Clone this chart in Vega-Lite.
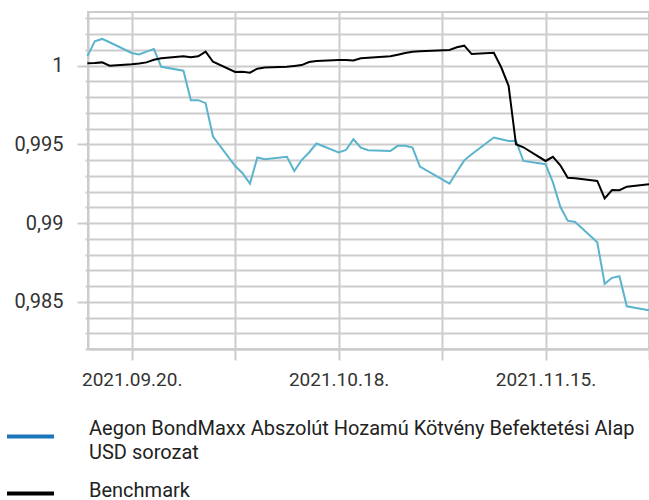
{
  "$schema": "https://vega.github.io/schema/vega-lite/v6.json",
  "width": 561,
  "height": 337,
  "autosize": "none",
  "padding": {"left": 88, "top": 12, "right": 0, "bottom": 151},
  "background": "white",
  "config": {
    "font": "Roboto",
    "view": {"stroke": "#cccccc", "strokeWidth": 2}
  },
  "data": {
    "values": [
      {"date": "2021-09-14T00:00", "series": "Aegon BondMaxx Abszolút Hozamú Kötvény Befektetési Alap USD sorozat", "value": 1.00060},
      {"date": "2021-09-15T00:00", "series": "Aegon BondMaxx Abszolút Hozamú Kötvény Befektetési Alap USD sorozat", "value": 1.00154},
      {"date": "2021-09-16T00:00", "series": "Aegon BondMaxx Abszolút Hozamú Kötvény Befektetési Alap USD sorozat", "value": 1.00169},
      {"date": "2021-09-17T00:00", "series": "Aegon BondMaxx Abszolút Hozamú Kötvény Befektetési Alap USD sorozat", "value": 1.00148},
      {"date": "2021-09-20T00:00", "series": "Aegon BondMaxx Abszolút Hozamú Kötvény Befektetési Alap USD sorozat", "value": 1.00080},
      {"date": "2021-09-21T00:00", "series": "Aegon BondMaxx Abszolút Hozamú Kötvény Befektetési Alap USD sorozat", "value": 1.00071},
      {"date": "2021-09-22T00:00", "series": "Aegon BondMaxx Abszolút Hozamú Kötvény Befektetési Alap USD sorozat", "value": 1.00088},
      {"date": "2021-09-23T00:00", "series": "Aegon BondMaxx Abszolút Hozamú Kötvény Befektetési Alap USD sorozat", "value": 1.00105},
      {"date": "2021-09-24T00:00", "series": "Aegon BondMaxx Abszolút Hozamú Kötvény Befektetési Alap USD sorozat", "value": 0.99992},
      {"date": "2021-09-27T00:00", "series": "Aegon BondMaxx Abszolút Hozamú Kötvény Befektetési Alap USD sorozat", "value": 0.99967},
      {"date": "2021-09-28T00:00", "series": "Aegon BondMaxx Abszolút Hozamú Kötvény Befektetési Alap USD sorozat", "value": 0.99780},
      {"date": "2021-09-29T00:00", "series": "Aegon BondMaxx Abszolút Hozamú Kötvény Befektetési Alap USD sorozat", "value": 0.99780},
      {"date": "2021-09-30T00:00", "series": "Aegon BondMaxx Abszolút Hozamú Kötvény Befektetési Alap USD sorozat", "value": 0.99761},
      {"date": "2021-10-01T00:00", "series": "Aegon BondMaxx Abszolút Hozamú Kötvény Befektetési Alap USD sorozat", "value": 0.99549},
      {"date": "2021-10-04T00:00", "series": "Aegon BondMaxx Abszolút Hozamú Kötvény Befektetési Alap USD sorozat", "value": 0.99362},
      {"date": "2021-10-05T00:00", "series": "Aegon BondMaxx Abszolút Hozamú Kötvény Befektetési Alap USD sorozat", "value": 0.99316},
      {"date": "2021-10-06T00:00", "series": "Aegon BondMaxx Abszolút Hozamú Kötvény Befektetési Alap USD sorozat", "value": 0.99250},
      {"date": "2021-10-07T00:00", "series": "Aegon BondMaxx Abszolút Hozamú Kötvény Befektetési Alap USD sorozat", "value": 0.99416},
      {"date": "2021-10-08T00:00", "series": "Aegon BondMaxx Abszolút Hozamú Kötvény Befektetési Alap USD sorozat", "value": 0.99405},
      {"date": "2021-10-11T00:00", "series": "Aegon BondMaxx Abszolút Hozamú Kötvény Befektetési Alap USD sorozat", "value": 0.99420},
      {"date": "2021-10-12T00:00", "series": "Aegon BondMaxx Abszolút Hozamú Kötvény Befektetési Alap USD sorozat", "value": 0.99330},
      {"date": "2021-10-13T00:00", "series": "Aegon BondMaxx Abszolút Hozamú Kötvény Befektetési Alap USD sorozat", "value": 0.99400},
      {"date": "2021-10-14T00:00", "series": "Aegon BondMaxx Abszolút Hozamú Kötvény Befektetési Alap USD sorozat", "value": 0.99448},
      {"date": "2021-10-15T00:00", "series": "Aegon BondMaxx Abszolút Hozamú Kötvény Befektetési Alap USD sorozat", "value": 0.99505},
      {"date": "2021-10-18T00:00", "series": "Aegon BondMaxx Abszolút Hozamú Kötvény Befektetési Alap USD sorozat", "value": 0.99448},
      {"date": "2021-10-19T00:00", "series": "Aegon BondMaxx Abszolút Hozamú Kötvény Befektetési Alap USD sorozat", "value": 0.99464},
      {"date": "2021-10-20T00:00", "series": "Aegon BondMaxx Abszolút Hozamú Kötvény Befektetési Alap USD sorozat", "value": 0.99532},
      {"date": "2021-10-21T00:00", "series": "Aegon BondMaxx Abszolút Hozamú Kötvény Befektetési Alap USD sorozat", "value": 0.99479},
      {"date": "2021-10-22T00:00", "series": "Aegon BondMaxx Abszolút Hozamú Kötvény Befektetési Alap USD sorozat", "value": 0.99462},
      {"date": "2021-10-25T00:00", "series": "Aegon BondMaxx Abszolút Hozamú Kötvény Befektetési Alap USD sorozat", "value": 0.99458},
      {"date": "2021-10-26T00:00", "series": "Aegon BondMaxx Abszolút Hozamú Kötvény Befektetési Alap USD sorozat", "value": 0.99490},
      {"date": "2021-10-27T00:00", "series": "Aegon BondMaxx Abszolút Hozamú Kötvény Befektetési Alap USD sorozat", "value": 0.99490},
      {"date": "2021-10-28T00:00", "series": "Aegon BondMaxx Abszolút Hozamú Kötvény Befektetési Alap USD sorozat", "value": 0.99479},
      {"date": "2021-10-29T00:00", "series": "Aegon BondMaxx Abszolút Hozamú Kötvény Befektetési Alap USD sorozat", "value": 0.99358},
      {"date": "2021-11-02T00:00", "series": "Aegon BondMaxx Abszolút Hozamú Kötvény Befektetési Alap USD sorozat", "value": 0.99250},
      {"date": "2021-11-03T00:00", "series": "Aegon BondMaxx Abszolút Hozamú Kötvény Befektetési Alap USD sorozat", "value": 0.99325},
      {"date": "2021-11-04T00:00", "series": "Aegon BondMaxx Abszolút Hozamú Kötvény Befektetési Alap USD sorozat", "value": 0.99398},
      {"date": "2021-11-05T00:00", "series": "Aegon BondMaxx Abszolút Hozamú Kötvény Befektetési Alap USD sorozat", "value": 0.99437},
      {"date": "2021-11-08T00:00", "series": "Aegon BondMaxx Abszolút Hozamú Kötvény Befektetési Alap USD sorozat", "value": 0.99543},
      {"date": "2021-11-09T00:00", "series": "Aegon BondMaxx Abszolút Hozamú Kötvény Befektetési Alap USD sorozat", "value": 0.99532},
      {"date": "2021-11-10T00:00", "series": "Aegon BondMaxx Abszolút Hozamú Kötvény Befektetési Alap USD sorozat", "value": 0.99521},
      {"date": "2021-11-11T00:00", "series": "Aegon BondMaxx Abszolút Hozamú Kötvény Befektetési Alap USD sorozat", "value": 0.99523},
      {"date": "2021-11-12T00:00", "series": "Aegon BondMaxx Abszolút Hozamú Kötvény Befektetési Alap USD sorozat", "value": 0.99394},
      {"date": "2021-11-15T00:00", "series": "Aegon BondMaxx Abszolút Hozamú Kötvény Befektetési Alap USD sorozat", "value": 0.99373},
      {"date": "2021-11-16T00:00", "series": "Aegon BondMaxx Abszolút Hozamú Kötvény Befektetési Alap USD sorozat", "value": 0.99258},
      {"date": "2021-11-17T00:00", "series": "Aegon BondMaxx Abszolút Hozamú Kötvény Befektetési Alap USD sorozat", "value": 0.99103},
      {"date": "2021-11-18T00:00", "series": "Aegon BondMaxx Abszolút Hozamú Kötvény Befektetési Alap USD sorozat", "value": 0.99015},
      {"date": "2021-11-19T00:00", "series": "Aegon BondMaxx Abszolút Hozamú Kötvény Befektetési Alap USD sorozat", "value": 0.99007},
      {"date": "2021-11-22T00:00", "series": "Aegon BondMaxx Abszolút Hozamú Kötvény Befektetési Alap USD sorozat", "value": 0.98878},
      {"date": "2021-11-23T00:00", "series": "Aegon BondMaxx Abszolút Hozamú Kötvény Befektetési Alap USD sorozat", "value": 0.98614},
      {"date": "2021-11-24T00:00", "series": "Aegon BondMaxx Abszolút Hozamú Kötvény Befektetési Alap USD sorozat", "value": 0.98652},
      {"date": "2021-11-25T00:00", "series": "Aegon BondMaxx Abszolút Hozamú Kötvény Befektetési Alap USD sorozat", "value": 0.98662},
      {"date": "2021-11-26T00:00", "series": "Aegon BondMaxx Abszolút Hozamú Kötvény Befektetési Alap USD sorozat", "value": 0.98471},
      {"date": "2021-11-29T00:00", "series": "Aegon BondMaxx Abszolút Hozamú Kötvény Befektetési Alap USD sorozat", "value": 0.98446},
      {"date": "2021-09-14T00:00", "series": "Benchmark", "value": 1.00014},
      {"date": "2021-09-15T00:00", "series": "Benchmark", "value": 1.00016},
      {"date": "2021-09-16T00:00", "series": "Benchmark", "value": 1.00020},
      {"date": "2021-09-17T00:00", "series": "Benchmark", "value": 0.99999},
      {"date": "2021-09-20T00:00", "series": "Benchmark", "value": 1.00008},
      {"date": "2021-09-21T00:00", "series": "Benchmark", "value": 1.00013},
      {"date": "2021-09-22T00:00", "series": "Benchmark", "value": 1.00020},
      {"date": "2021-09-23T00:00", "series": "Benchmark", "value": 1.00037},
      {"date": "2021-09-24T00:00", "series": "Benchmark", "value": 1.00046},
      {"date": "2021-09-27T00:00", "series": "Benchmark", "value": 1.00059},
      {"date": "2021-09-28T00:00", "series": "Benchmark", "value": 1.00052},
      {"date": "2021-09-29T00:00", "series": "Benchmark", "value": 1.00059},
      {"date": "2021-09-30T00:00", "series": "Benchmark", "value": 1.00088},
      {"date": "2021-10-01T00:00", "series": "Benchmark", "value": 1.00024},
      {"date": "2021-10-04T00:00", "series": "Benchmark", "value": 0.99959},
      {"date": "2021-10-05T00:00", "series": "Benchmark", "value": 0.99961},
      {"date": "2021-10-06T00:00", "series": "Benchmark", "value": 0.99955},
      {"date": "2021-10-07T00:00", "series": "Benchmark", "value": 0.99980},
      {"date": "2021-10-08T00:00", "series": "Benchmark", "value": 0.99987},
      {"date": "2021-10-11T00:00", "series": "Benchmark", "value": 0.99992},
      {"date": "2021-10-12T00:00", "series": "Benchmark", "value": 0.99997},
      {"date": "2021-10-13T00:00", "series": "Benchmark", "value": 1.00003},
      {"date": "2021-10-14T00:00", "series": "Benchmark", "value": 1.00022},
      {"date": "2021-10-15T00:00", "series": "Benchmark", "value": 1.00029},
      {"date": "2021-10-18T00:00", "series": "Benchmark", "value": 1.00035},
      {"date": "2021-10-19T00:00", "series": "Benchmark", "value": 1.00035},
      {"date": "2021-10-20T00:00", "series": "Benchmark", "value": 1.00032},
      {"date": "2021-10-21T00:00", "series": "Benchmark", "value": 1.00046},
      {"date": "2021-10-22T00:00", "series": "Benchmark", "value": 1.00049},
      {"date": "2021-10-25T00:00", "series": "Benchmark", "value": 1.00059},
      {"date": "2021-10-26T00:00", "series": "Benchmark", "value": 1.00069},
      {"date": "2021-10-27T00:00", "series": "Benchmark", "value": 1.00080},
      {"date": "2021-10-28T00:00", "series": "Benchmark", "value": 1.00088},
      {"date": "2021-10-29T00:00", "series": "Benchmark", "value": 1.00090},
      {"date": "2021-11-02T00:00", "series": "Benchmark", "value": 1.00099},
      {"date": "2021-11-03T00:00", "series": "Benchmark", "value": 1.00116},
      {"date": "2021-11-04T00:00", "series": "Benchmark", "value": 1.00126},
      {"date": "2021-11-05T00:00", "series": "Benchmark", "value": 1.00073},
      {"date": "2021-11-08T00:00", "series": "Benchmark", "value": 1.00081},
      {"date": "2021-11-09T00:00", "series": "Benchmark", "value": 0.99989},
      {"date": "2021-11-10T00:00", "series": "Benchmark", "value": 0.99871},
      {"date": "2021-11-11T00:00", "series": "Benchmark", "value": 0.99500},
      {"date": "2021-11-12T00:00", "series": "Benchmark", "value": 0.99481},
      {"date": "2021-11-15T00:00", "series": "Benchmark", "value": 0.99394},
      {"date": "2021-11-16T00:00", "series": "Benchmark", "value": 0.99420},
      {"date": "2021-11-17T00:00", "series": "Benchmark", "value": 0.99367},
      {"date": "2021-11-18T00:00", "series": "Benchmark", "value": 0.99288},
      {"date": "2021-11-19T00:00", "series": "Benchmark", "value": 0.99285},
      {"date": "2021-11-22T00:00", "series": "Benchmark", "value": 0.99267},
      {"date": "2021-11-23T00:00", "series": "Benchmark", "value": 0.99157},
      {"date": "2021-11-24T00:00", "series": "Benchmark", "value": 0.99209},
      {"date": "2021-11-25T00:00", "series": "Benchmark", "value": 0.99208},
      {"date": "2021-11-26T00:00", "series": "Benchmark", "value": 0.99231},
      {"date": "2021-11-29T00:00", "series": "Benchmark", "value": 0.99246}
    ]
  },
  "layer": [
    {
      "transform": [{"filter": "datum.series != 'Benchmark'"}],
      "mark": {"type": "line", "strokeWidth": 2, "color": "#5bb4cd"},
      "encoding": {
        "x": {
          "field": "date",
          "type": "temporal",
          "scale": {"domain": [{"year": 2021, "month": 9, "date": 14, "hours": 2}, {"year": 2021, "month": 11, "date": 29}]},
          "axis": {
            "title": null,
            "values": [
              {"year": 2021, "month": 9, "date": 20},
              {"year": 2021, "month": 10, "date": 4},
              {"year": 2021, "month": 10, "date": 18},
              {"year": 2021, "month": 11, "date": 1},
              {"year": 2021, "month": 11, "date": 15},
              {"year": 2021, "month": 11, "date": 29}
            ],
            "labelExpr": "indexof(['2021.09.20.', '2021.10.18.', '2021.11.15.'], timeFormat(datum.value, '%Y.%m.%d.')) >= 0 ? timeFormat(datum.value, '%Y.%m.%d.') : ''",
            "grid": true,
            "gridColor": "#cccccc",
            "gridWidth": 2,
            "tickSize": 11,
            "tickColor": "#cccccc",
            "tickWidth": 2,
            "domainColor": "#cccccc",
            "domainWidth": 2,
            "labelFontSize": 19,
            "labelColor": "#333333",
            "labelPadding": 10,
            "labelFlush": false,
            "labelOverlap": false
          }
        },
        "y": {
          "field": "value",
          "type": "quantitative",
          "scale": {"domain": [0.982, 1.0034], "zero": false, "nice": false},
          "axis": {
            "title": null,
            "orient": "left",
            "values": [0.982, 0.983, 0.984, 0.985, 0.986, 0.987, 0.988, 0.989, 0.99, 0.991, 0.992, 0.993, 0.994, 0.995, 0.996, 0.997, 0.998, 0.999, 1, 1.001, 1.002, 1.003],
            "labels": false,
            "grid": true,
            "gridColor": "#cccccc",
            "gridWidth": 2,
            "tickSize": 3,
            "tickColor": "#cccccc",
            "tickWidth": 2,
            "domainColor": "#cccccc",
            "domainWidth": 2
          }
        }
      }
    },
    {
      "transform": [{"filter": "datum.series == 'Benchmark'"}],
      "mark": {"type": "line", "strokeWidth": 2},
      "encoding": {
        "x": {"field": "date", "type": "temporal"},
        "y": {
          "field": "value",
          "type": "quantitative",
          "axis": {
            "title": null,
            "orient": "left",
            "values": [0.985, 0.99, 0.995, 1],
            "labelExpr": "replace(toString(datum.value), '.', ',')",
            "grid": false,
            "domain": false,
            "tickSize": 11,
            "tickColor": "#cccccc",
            "tickWidth": 2,
            "labelPadding": 14,
            "labelFontSize": 20,
            "labelColor": "#333333"
          }
        },
        "color": {
          "field": "series",
          "type": "nominal",
          "scale": {
            "domain": ["Aegon BondMaxx Abszolút Hozamú Kötvény Befektetési Alap USD sorozat", "Benchmark"],
            "range": ["#1b75bb", "#000000"]
          },
          "legend": {
            "title": null,
            "orient": "none",
            "legendX": -83,
            "legendY": 399,
            "direction": "vertical",
            "padding": 0,
            "symbolType": "stroke",
            "symbolSize": 2209,
            "symbolStrokeWidth": 4,
            "labelFontSize": 20,
            "labelColor": "#222222",
            "labelOffset": 33,
            "labelLimit": 700,
            "rowPadding": 5,
            "labelExpr": "datum.label == 'Benchmark' ? 'Benchmark' : ['Aegon BondMaxx Abszolút Hozamú Kötvény Befektetési Alap', 'USD sorozat']",
            "encode": {
              "labels": {"update": {"lineHeight": {"signal": "datum.label == 'Benchmark' ? 20 : 24"}, "dy": {"signal": "datum.label == 'Benchmark' ? -3 : -8"}}}
            }
          }
        }
      }
    }
  ],
  "resolve": {"axis": {"y": "independent"}}
}
